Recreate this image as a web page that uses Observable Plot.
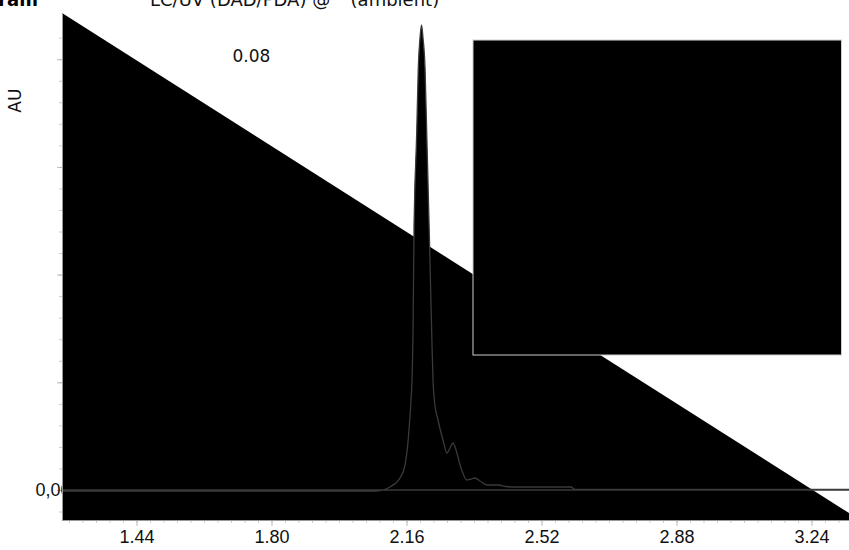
<!DOCTYPE html>
<html>
<head>
<meta charset="utf-8">
<script src="https://cdn.jsdelivr.net/npm/d3@7"></script>
<script src="https://cdn.jsdelivr.net/npm/@observablehq/plot@0.6"></script>
<style>
  html, body { margin: 0; padding: 0; background: #fff; overflow: hidden; }
  #wrap { position: relative; width: 849px; height: 550px; overflow: hidden; }
  #title { position: absolute; left: 150px; top: -11px; font: 18px "DejaVu Sans", sans-serif; color: #111; white-space: nowrap; }
  #titleL { position: absolute; right: 811px; top: -11px; font: bold 18px "DejaVu Sans", sans-serif; color: #000; white-space: nowrap; }
</style>
</head>
<body>
<div id="wrap">
  <div id="chart"></div>
  <div id="titleL">Chromatogram</div>
  <div id="title">LC/UV (DAD/PDA) @ ° (ambient)</div>
</div>
<script>
// Retention time (min) and absorbance (AU) of the chromatogram trace
const times = [1.2413, 1.6093, 2.0787, 2.1160, 2.1427, 2.1560, 2.1667, 2.1720, 2.1747, 2.1773, 2.1800, 2.1872, 2.1915, 2.1960, 2.2000, 2.2040, 2.2093, 2.2139, 2.2208, 2.2272, 2.2307, 2.2341, 2.2440, 2.2573, 2.2680, 2.2760, 2.2840, 2.2920, 2.3053, 2.3213, 2.3320, 2.3427, 2.3560, 2.3747, 2.4040, 2.4253, 2.4440, 2.5987, 2.6093, 3.3400];
const absorb = [-0.00019, -0.00019, -0.00019, 0.00056, 0.00223, 0.00464, 0.01114, 0.01671, 0.02043, 0.02916, 0.04773, 0.06630, 0.07855, 0.08394, 0.08635, 0.08394, 0.07855, 0.06630, 0.04773, 0.02916, 0.02043, 0.01671, 0.01300, 0.00929, 0.00687, 0.00780, 0.00873, 0.00743, 0.00409, 0.00186, 0.00204, 0.00223, 0.00167, 0.00093, 0.00093, 0.00065, 0.00056, 0.00056, 0.00009, 0.00009];

// Filled triangle (top-left corner to bottom-right) drawn by the source renderer
const triX = [1.2413, 3.369];
const triY = [0.08858, -0.00557];
// Filled box (legend area) in the upper right
const boxX = [2.3373, 3.320];
const boxY = [0.02507, 0.08356];

// Axis ticks
const xDomain = [1.2413, 3.34];
const yDomain = [-0.00557, 0.08858];
const xMajor = [1.44, 1.80, 2.16, 2.52, 2.88, 3.24];
const xMinor = d3.range(1.26, 3.34, 0.036);
const yMajor = [0, 0.02, 0.04, 0.06, 0.08];
const yMinor = d3.range(-0.004, 0.088, 0.004);
const yLabelZero = "0,00";
const yLabelTop = "0.08";
const yTitle = "AU";

const chrom = times.map((t, i) => ({t, a: absorb[i]}));
const tri = triX.map((x, i) => ({x, y: triY[i]}));
const box = [{x1: boxX[0], x2: boxX[1], y1: boxY[0], y2: boxY[1]}];

const plot = Plot.plot({
  width: 849,
  height: 550,
  marginTop: 13,
  marginBottom: 30,
  marginLeft: 62,
  marginRight: 0,
  style: {background: "#fff", fontFamily: "Liberation Sans, sans-serif"},
  x: {domain: xDomain},
  y: {domain: yDomain},
  marks: [
    Plot.axisY({ticks: yMinor, tickSize: 3, text: null, stroke: "#ccc", label: null}),
    Plot.axisY({ticks: yMajor, tickSize: 5, text: null, stroke: "#bbb", label: null}),
    Plot.axisX({ticks: xMinor, tickSize: 3, text: null, stroke: "#ccc", label: null}),
    Plot.axisX({ticks: xMajor, tickSize: 6, tickPadding: 4, stroke: "#bbb", fill: "#111", fontSize: 18,
      tickFormat: d => d.toFixed(2), label: null}),
    Plot.text([0], {x: xDomain[0], y: d => d, text: () => yLabelZero, textAnchor: "end", dx: 8, fontSize: 18, fill: "#111"}),
    Plot.text([yTitle], {x: xDomain[0], y: 0.0724, text: d => d, rotate: -90, dx: -47, fontSize: 17, fontFamily: "DejaVu Sans", fill: "#111"}),
    Plot.areaY(tri, {x: "x", y: "y", y1: yDomain[0], fill: "#000", curve: "linear"}),
    Plot.rect(box, {x1: "x1", x2: "x2", y1: "y1", y2: "y2", fill: "#000", stroke: "#ccc", strokeWidth: 1}),
    Plot.areaY(chrom, {x: "t", y: "a", fill: "#000", stroke: "#3a3a3a", strokeWidth: 1.3, curve: "monotone-x"}),
    Plot.ruleX([xDomain[0]], {stroke: "#999"}),
    Plot.ruleY([yDomain[0]], {stroke: "#999"}),
    Plot.text([yLabelTop], {x: 1.745, y: 0.0805, text: d => d, fontSize: 17, fontFamily: "DejaVu Sans", fill: "#111"})
  ]
});
document.getElementById("chart").appendChild(plot);
</script>
</body>
</html>
